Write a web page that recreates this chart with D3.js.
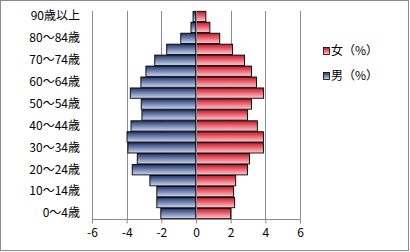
<!DOCTYPE html>
<html><head><meta charset="utf-8">
<script src="https://cdn.jsdelivr.net/npm/d3@7"></script>
<style>
html,body{margin:0;padding:0;background:#fff;}
svg{display:block;}
text{font-family:"Noto Sans CJK JP","Noto Sans",sans-serif;fill:#000;}
</style></head>
<body>
<svg id="c" width="410" height="252"></svg>
<script>
const categories = ["0～4歳","5～9歳","10～14歳","15～19歳","20～24歳","25～29歳","30～34歳","35～39歳","40～44歳","45～49歳","50～54歳","55～59歳","60～64歳","65～69歳","70～74歳","75～79歳","80～84歳","85～89歳","90歳以上"];
const female = [2.0,2.23,2.17,2.29,2.97,3.09,3.89,3.89,3.54,2.97,3.2,3.9,3.49,3.2,2.8,2.11,1.37,0.8,0.57];
const male = [2.03,2.26,2.26,2.66,3.68,3.39,3.93,3.98,3.75,3.12,3.16,3.79,3.18,2.89,2.38,1.69,0.88,0.29,0.17];
const xTicks = [-6,-4,-2,0,2,4,6];
const yTickLabels = ["0～4歳","10～14歳","20～24歳","30～34歳","40～44歳","50～54歳","60～64歳","70～74歳","80～84歳","90歳以上"];
const seriesNames = ["女（%）","男（%）"];

const svg = d3.select("#c");
const defs = svg.append("defs");
function grad(id, c1, c2){
  const g = defs.append("linearGradient").attr("id",id).attr("x1",0).attr("y1",0).attr("x2",0).attr("y2",1);
  g.append("stop").attr("offset","0%").attr("stop-color",c1);
  g.append("stop").attr("offset","100%").attr("stop-color",c2);
}
grad("gRed","#d8101e","#f4d0d8");
grad("gBlue","#1c3572","#d0d8ec");

svg.append("rect").attr("x",0.5).attr("y",0.5).attr("width",408).attr("height",250)
  .attr("fill","#fff").attr("stroke","#8c8c8c");

const x = d3.scaleLinear().domain([-6,6]).range([92,300]);
const y = d3.scaleBand().domain(categories.slice().reverse()).range([11,219]).paddingInner(0.06).paddingOuter(0.03);

// gridlines
svg.append("g").selectAll("line").data(xTicks).join("line")
  .attr("x1",d=>Math.round(x(d))+0.5).attr("x2",d=>Math.round(x(d))+0.5)
  .attr("y1",11).attr("y2",219).attr("stroke","#8c8c8c").attr("stroke-width",1);

// bars
svg.append("g").selectAll("rect").data(categories).join("rect")
  .attr("x",(d,i)=>x(-male[i])).attr("y",d=>y(d))
  .attr("width",(d,i)=>x(0)-x(-male[i])).attr("height",y.bandwidth())
  .attr("fill","url(#gBlue)").attr("stroke","#000").attr("stroke-width",0.9);
svg.append("g").selectAll("rect").data(categories).join("rect")
  .attr("x",x(0)).attr("y",d=>y(d))
  .attr("width",(d,i)=>x(female[i])-x(0)).attr("height",y.bandwidth())
  .attr("fill","url(#gRed)").attr("stroke","#000").attr("stroke-width",0.9);

// center line
svg.append("line").attr("x1",Math.round(x(0))+0.5).attr("x2",Math.round(x(0))+0.5)
  .attr("y1",11).attr("y2",219).attr("stroke","#8c8c8c");

// x axis
const xa = svg.append("g").attr("transform","translate(0,219.5)")
  .call(d3.axisBottom(x).tickValues(xTicks).tickSize(4).tickPadding(5).tickFormat(d3.format("d")));
xa.select(".domain").attr("stroke","#8c8c8c").attr("d","M92,0H300");
xa.selectAll(".tick line").attr("stroke","#8c8c8c");
xa.selectAll("text").attr("font-size",12).attr("font-family","'Noto Sans CJK JP',sans-serif").attr("fill","#000").text(d=>d<0?"-"+(-d):d);

// y axis labels
const ya = svg.append("g").attr("transform","translate(80,0)")
  .call(d3.axisLeft(y).tickValues(yTickLabels).tickSize(0).tickPadding(0));
ya.select(".domain").remove();
ya.selectAll("text").attr("font-size",12).attr("font-family","'Noto Sans CJK JP',sans-serif").attr("fill","#000");

// legend
const lg = svg.append("g");
const lgItems = [{name:seriesNames[0],fill:"url(#gRed)",y:51},{name:seriesNames[1],fill:"url(#gBlue)",y:76}];
lgItems.forEach(it=>{
  lg.append("rect").attr("x",323.5).attr("y",it.y-3.5).attr("width",6).attr("height",7)
    .attr("fill",it.fill).attr("stroke","#000").attr("stroke-width",0.8);
  lg.append("text").attr("x",331).attr("y",it.y).attr("dy","0.36em").attr("font-size",12).text(it.name);
});
</script>
</body></html>
